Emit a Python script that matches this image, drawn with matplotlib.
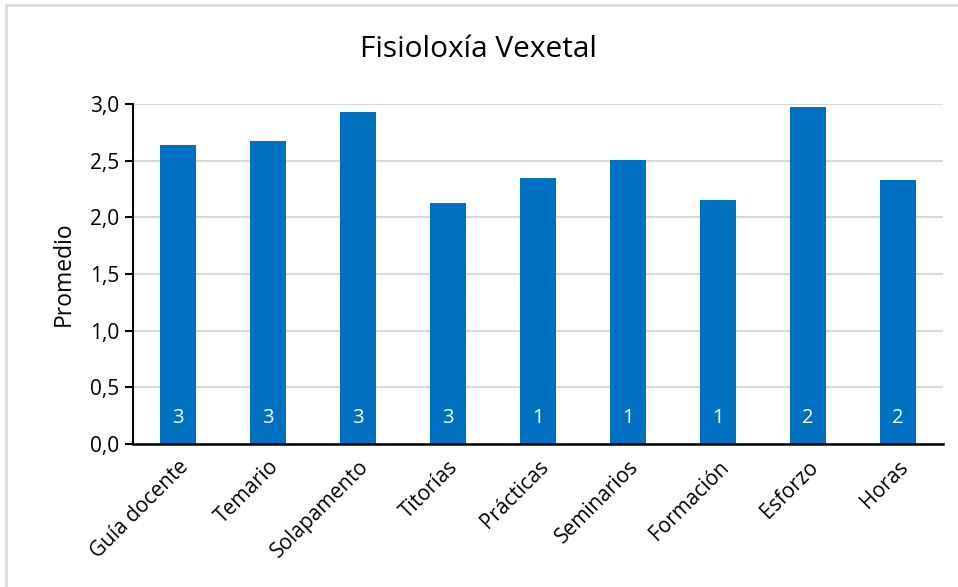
import matplotlib
matplotlib.use('Agg')
import matplotlib.pyplot as plt
from matplotlib.patches import Rectangle

categories = ['Guía docente', 'Temario', 'Solapamento', 'Titorías', 'Prácticas',
              'Seminarios', 'Formación', 'Esforzo', 'Horas']
promedio = [2.64, 2.67, 2.93, 2.13, 2.35, 2.51, 2.15, 2.97, 2.33]
bar_labels = ['3', '3', '3', '3', '1', '1', '1', '2', '2']

plt.rcParams['font.family'] = ['Open Sans', 'DejaVu Sans']

fig = plt.figure(figsize=(9.58, 5.87), dpi=100)
ax = fig.add_axes([0.1388, 0.2436, 0.8455, 0.5792])

# chart border
fig.patches.append(Rectangle((6 / 958, -0.01), 1.0, 1.0 - 5 / 587 + 0.01,
                             transform=fig.transFigure, fill=False,
                             edgecolor='#d9d9d9', linewidth=2))

x = range(len(categories))
bars = ax.bar(x, promedio, width=0.4, color='#0070c0', zorder=3)

for b, lbl in zip(bars, bar_labels):
    ax.text(b.get_x() + b.get_width() / 2, 0.23, lbl, ha='center', va='center',
            color='white', fontsize=14.5, zorder=4)

ax.set_xlim(-0.5, len(categories) - 0.5)
ax.set_ylim(0, 3.0)
ax.set_yticks([0, 0.5, 1.0, 1.5, 2.0, 2.5, 3.0])
ax.set_yticklabels([f'{v:.1f}'.replace('.', ',') for v in ax.get_yticks()], fontsize=15)
ax.set_xticks(list(x))
ax.set_xticklabels(categories, rotation=45, ha='right', rotation_mode='anchor', fontsize=15)
ax.tick_params(axis='x', length=0, pad=9)
ax.tick_params(axis='y', length=6, width=1.5, direction='out', pad=4)

ax.grid(axis='y', color='#d9d9d9', linewidth=1.5, zorder=0)
for s in ['top', 'right']:
    ax.spines[s].set_visible(False)
ax.spines['left'].set_linewidth(1.5)
ax.spines['bottom'].set_linewidth(1.8)
ax.spines['left'].set_zorder(5)
ax.spines['bottom'].set_zorder(5)

ax.set_ylabel('Promedio', fontsize=16.5, labelpad=10)
fig.text(0.5, 0.915, 'Fisioloxía Vexetal', ha='center', va='center', fontsize=21.5)

fig.savefig('out.png', dpi=100, facecolor='white')
